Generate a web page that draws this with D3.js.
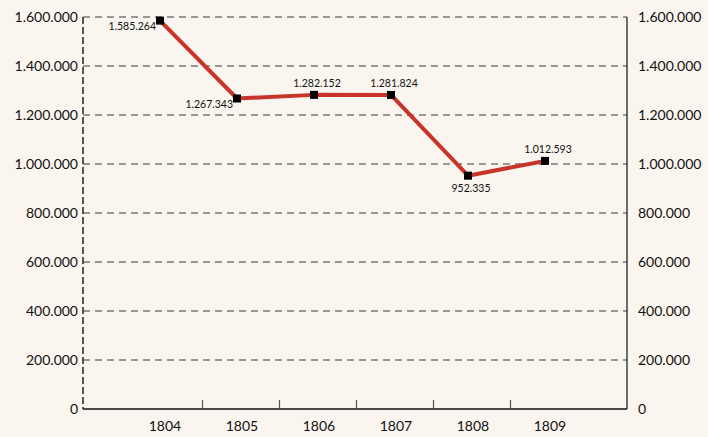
<!DOCTYPE html>
<meta charset="utf-8">
<style>
body { margin: 0; background: #faf6ef; }
svg { display: block; font-family: Lato, "Open Sans", sans-serif; }
.grid line { stroke: #3a3a3a; stroke-dasharray: 7,5; stroke-width: 1; }
.line { fill: none; stroke: #c9342a; stroke-width: 4px; stroke-linejoin: round; }
.lbl { font-size: 10.5px; fill: #111; }
.axis text { font-size: 14px; fill: #111; }
</style>
<body>
<script src="https://d3js.org/d3.v7.min.js"></script>
<script>

// data
var years = [1804, 1805, 1806, 1807, 1808, 1809];
var values = [1585264, 1267343, 1282152, 1281824, 952335, 1012593];
var yTicks = [0, 200000, 400000, 600000, 800000, 1000000, 1200000, 1400000, 1600000];
// where each value label sits relative to its point
var labelPos = ["left", "left", "above", "above", "below", "above"];

var width = 708, height = 437;
var plotLeft = 83, plotRight = 627, plotTop = 17, plotBottom = 409;

var fmt = function(v) { return d3.format(",")(v).replace(/,/g, "."); };

var svg = d3.select("body").append("svg")
    .attr("width", width)
    .attr("height", height);

// band scale for the categories
var x = d3.scaleBand()
    .domain(years)
    .range([125.5, 587.5])
    .padding(0);
var y = d3.scaleLinear()
    .domain([0, 1600000])
    .range([plotBottom, plotTop]);

var px = function(d) { return x(d) + x.bandwidth() / 2 - 4; };

// gridlines
svg.append("g")
    .attr("class", "grid")
    .selectAll("line")
    .data(yTicks.slice(1))
    .enter().append("line")
    .attr("x1", plotLeft).attr("x2", plotRight)
    .attr("y1", function(d) { return y(d); })
    .attr("y2", function(d) { return y(d); });

// left axis (dashed)
svg.append("line")
    .attr("x1", plotLeft).attr("x2", plotLeft)
    .attr("y1", plotTop).attr("y2", plotBottom)
    .attr("stroke", "#222").attr("stroke-width", 1.5)
    .attr("stroke-dasharray", "7,3");

// right axis
svg.append("line")
    .attr("x1", plotRight).attr("x2", plotRight)
    .attr("y1", plotTop).attr("y2", plotBottom)
    .attr("stroke", "#111").attr("stroke-width", 1.2);

// bottom axis
svg.append("line")
    .attr("x1", plotLeft).attr("x2", plotRight)
    .attr("y1", plotBottom).attr("y2", plotBottom)
    .attr("stroke", "#111").attr("stroke-width", 1.5);

// left labels
svg.append("g").attr("class", "axis")
    .selectAll("text")
    .data(yTicks)
    .enter().append("text")
    .attr("x", plotLeft - 5)
    .attr("y", function(d) { return y(d) + 5; })
    .attr("text-anchor", "end")
    .text(function(d) { return fmt(d); });

// right labels
svg.append("g").attr("class", "axis")
    .selectAll("text")
    .data(yTicks)
    .enter().append("text")
    .attr("x", plotRight + 11)
    .attr("y", function(d) { return y(d) + 5; })
    .attr("text-anchor", "start")
    .text(function(d) { return fmt(d); });

// x ticks between categories
svg.append("g")
    .selectAll("line")
    .data(years.slice(1))
    .enter().append("line")
    .attr("x1", function(d) { return x(d); })
    .attr("x2", function(d) { return x(d); })
    .attr("y1", plotBottom).attr("y2", plotBottom - 9)
    .attr("stroke", "#555").attr("stroke-width", 1.2);

// x labels
svg.append("g").attr("class", "axis")
    .selectAll("text")
    .data(years)
    .enter().append("text")
    .attr("x", function(d) { return x(d) + x.bandwidth() / 2 + 1; })
    .attr("y", plotBottom + 22)
    .attr("text-anchor", "middle")
    .text(function(d) { return d; });

// line
var line = d3.line()
    .x(function(d, i) { return px(years[i]); })
    .y(function(d) { return y(d); });

svg.append("path")
    .datum(values)
    .attr("class", "line")
    .attr("d", line);

// markers
svg.append("g")
    .selectAll("rect")
    .data(values)
    .enter().append("rect")
    .attr("x", function(d, i) { return px(years[i]) - 4; })
    .attr("y", function(d) { return y(d) - 4; })
    .attr("width", 8).attr("height", 8)
    .attr("fill", "#000");

// value labels
svg.append("g")
    .selectAll("text")
    .data(values)
    .enter().append("text")
    .attr("class", "lbl")
    .attr("x", function(d, i) {
        return labelPos[i] == "left" ? px(years[i]) - 4 : px(years[i]) + 3;
    })
    .attr("y", function(d, i) {
        if (labelPos[i] == "left") return y(d) + 9;
        if (labelPos[i] == "below") return y(d) + 16;
        return y(d) - 8;
    })
    .attr("text-anchor", function(d, i) { return labelPos[i] == "left" ? "end" : "middle"; })
    .text(function(d) { return fmt(d); });

</script>
</body>
